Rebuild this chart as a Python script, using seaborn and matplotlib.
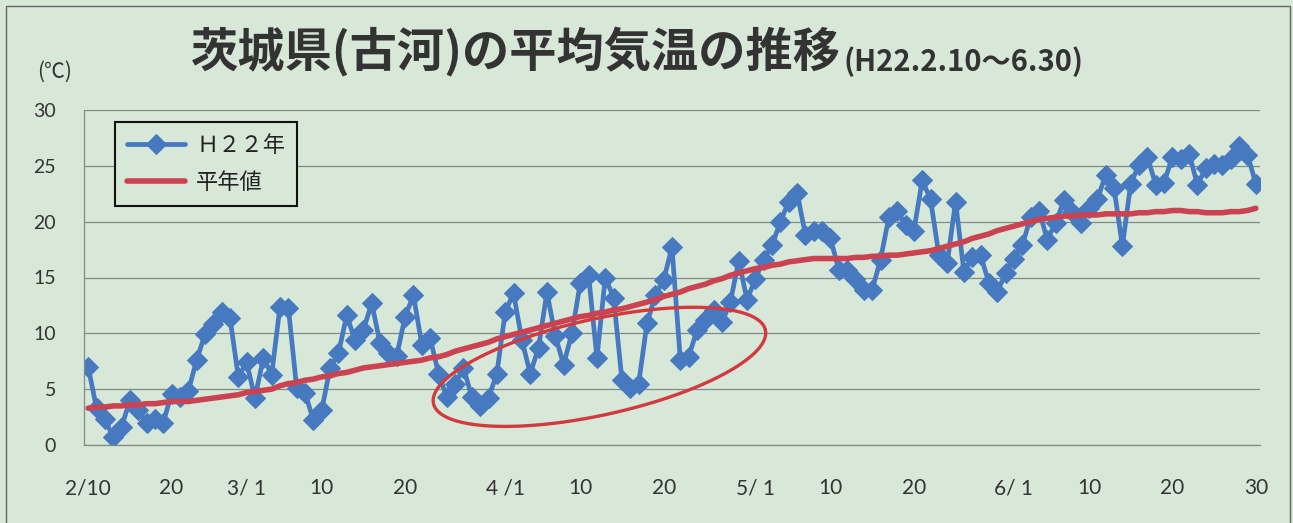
import numpy as np
import pandas as pd
import matplotlib.pyplot as plt
from matplotlib.patches import Rectangle
import seaborn as sns

# daily mean temperature, Koga (Ibaraki), 2010-02-10 .. 2010-06-30
dates = pd.date_range('2010-02-10', '2010-06-30', freq='D')

h22 = [7.0, 3.3, 2.3, 0.7, 1.6, 4.0, 3.1, 2.0, 2.3, 2.0,
       4.6, 4.3, 4.8, 7.6, 9.9, 10.8, 11.9, 11.4, 6.1, 7.4,
       4.2, 7.8, 6.3, 12.4, 12.3, 5.1, 4.7, 2.2, 3.1, 6.9,
       8.2, 11.6, 9.4, 10.3, 12.7, 9.1, 8.2, 8.0, 11.5, 13.4,
       9.0, 9.6, 6.4, 4.3, 5.5, 6.9, 4.3, 3.5, 4.2, 6.4,
       11.9, 13.6, 9.4, 6.4, 8.7, 13.7, 9.8, 7.2, 10.0, 14.5,
       15.2, 7.8, 15.0, 13.2, 5.8, 5.1, 5.5, 10.9, 13.4, 14.8,
       17.7, 7.6, 7.9, 10.3, 11.2, 12.1, 11.0, 12.8, 16.5, 13.0,
       14.9, 16.6, 17.9, 20.0, 21.8, 22.6, 18.8, 19.2, 19.2, 18.5,
       15.7, 15.7, 14.9, 13.9, 13.9, 16.6, 20.4, 21.0, 19.7, 19.2,
       23.7, 22.0, 17.0, 16.3, 21.8, 15.5, 16.8, 17.0, 14.5, 13.7,
       15.4, 16.7, 17.9, 20.4, 21.0, 18.4, 19.9, 21.9, 20.9, 19.9,
       21.2, 22.0, 24.2, 23.0, 17.8, 23.4, 25.1, 25.8, 23.3, 23.5,
       25.8, 25.6, 26.1, 23.3, 24.8, 25.2, 25.1, 25.6, 26.8, 26.0,
       23.4]

normal = [3.3, 3.4, 3.4, 3.5, 3.5, 3.6, 3.6, 3.7, 3.7, 3.8,
          3.9, 3.9, 3.9, 4.0, 4.1, 4.2, 4.3, 4.4, 4.5, 4.7,
          4.8, 4.9, 5.0, 5.3, 5.5, 5.6, 5.8, 5.9, 6.1, 6.2,
          6.4, 6.5, 6.7, 6.9, 7.0, 7.1, 7.2, 7.3, 7.4, 7.5,
          7.6, 7.8, 7.9, 8.1, 8.4, 8.6, 8.8, 9.0, 9.2, 9.5,
          9.7, 9.9, 10.1, 10.3, 10.5, 10.7, 10.9, 11.1, 11.3, 11.5,
          11.6, 11.8, 11.9, 12.1, 12.2, 12.4, 12.6, 12.8, 13.0, 13.3,
          13.5, 13.7, 14.0, 14.2, 14.4, 14.7, 14.9, 15.2, 15.4, 15.6,
          15.8, 15.9, 16.1, 16.2, 16.4, 16.5, 16.6, 16.7, 16.7, 16.7,
          16.7, 16.7, 16.8, 16.8, 16.9, 16.9, 17.0, 17.0, 17.1, 17.2,
          17.3, 17.4, 17.6, 17.8, 18.0, 18.2, 18.5, 18.7, 18.9, 19.2,
          19.4, 19.6, 19.8, 20.0, 20.2, 20.3, 20.4, 20.5, 20.5, 20.6,
          20.6, 20.6, 20.7, 20.7, 20.7, 20.7, 20.8, 20.8, 20.9, 20.9,
          21.0, 21.0, 20.9, 20.9, 20.8, 20.8, 20.8, 20.9, 20.9, 21.0,
          21.2]

tick_dates = ['2010-02-10', '2010-02-20', '2010-03-01', '2010-03-10', '2010-03-20',
              '2010-04-01', '2010-04-10', '2010-04-20', '2010-05-01', '2010-05-10',
              '2010-05-20', '2010-06-01', '2010-06-10', '2010-06-20', '2010-06-30']
tick_labels = ['2/10', '20', '3/ 1', '10', '20', '4 /1', '10', '20', '5/ 1', '10',
               '20', '6/ 1', '10', '20', '30']

bg = '#d7e8d9'
blue = '#4679c0'
red = '#cb4350'
grid_c = '#7f8c86'

sns.set_theme(style='white', rc={'axes.facecolor': bg, 'figure.facecolor': bg})
plt.rcParams['font.family'] = ['Lato', 'Noto Sans CJK JP', 'DejaVu Sans']

df = pd.DataFrame({'day': np.arange(len(dates)), 'H22': h22, 'normal': normal})

fig = plt.figure(figsize=(12.93, 5.23), dpi=100)
ax = fig.add_axes([84 / 1293, 1 - 445 / 523, (1260 - 84) / 1293, (445 - 110) / 523])

sns.lineplot(data=df, x='day', y='H22', ax=ax, color=blue, lw=3.4,
             marker='D', markersize=10.5, markeredgecolor=blue, label='Ｈ２２年')
sns.lineplot(data=df, x='day', y='normal', ax=ax, color=red, lw=4.0, label='平年値')

ax.set_xlim(-0.5, len(dates) - 0.5)
ax.set_ylim(0, 30)
ax.set_yticks(range(0, 31, 5))
tick_pos = [dates.get_loc(pd.Timestamp(d)) for d in tick_dates]
ax.set_xticks(tick_pos)
ax.set_xticklabels(tick_labels)
ax.set_xlabel('')
ax.set_ylabel('')
ax.yaxis.grid(True, color=grid_c, lw=0.9)
ax.tick_params(axis='x', length=0, pad=24, labelsize=15, labelcolor='#333333')
ax.tick_params(axis='y', length=0, pad=20, labelsize=14, labelcolor='#333333')
for s in ['top', 'right']:
    ax.spines[s].set_visible(False)
for s in ['left', 'bottom']:
    ax.spines[s].set_color(grid_c)
    ax.spines[s].set_linewidth(0.9)

# hand-drawn style ellipse around early-April cold spell
fig.canvas.draw()
bb = ax.get_window_extent()
px_day = bb.width / len(dates)
px_deg = bb.height / 30
t = np.linspace(0, 2 * np.pi, 300)
th = np.deg2rad(12.5)
a, b = 170, 48
ex = a * np.cos(t) * np.cos(th) - b * np.sin(t) * np.sin(th)
ey = a * np.cos(t) * np.sin(th) + b * np.sin(t) * np.cos(th)
ax.plot(61.3 + ex / px_day, 7.0 + ey / px_deg, color='#d23a3f', lw=2.4, zorder=5)

leg = ax.legend(loc='upper left', bbox_to_anchor=(115 / 1293, 1 - 122 / 523),
                bbox_transform=fig.transFigure, borderaxespad=0, frameon=True,
                fancybox=False, edgecolor='#111111', facecolor=bg, framealpha=1,
                handlelength=2.6, handletextpad=0.5, labelspacing=0.6, borderpad=0.55,
                prop={'family': 'Noto Sans CJK JP', 'size': 16})
leg.get_frame().set_linewidth(1.5)
for txt in leg.get_texts():
    txt.set_color('#222222')

fig.text(0.65, 1 - 52 / 523, '茨城県(古河)の平均気温の推移', ha='right', va='center',
         fontsize=34, fontweight='bold', color='#333333', family='Noto Sans CJK JP')
fig.text(0.652, 1 - 62 / 523, '(H22.2.10～6.30)', ha='left', va='center',
         fontsize=21, fontweight='bold', color='#333333', family='Noto Sans CJK JP')
fig.text(55 / 1293, 1 - 72 / 523, '(℃)', ha='center', va='center',
         fontsize=15, color='#333333', family='Noto Sans CJK JP')

fig.patches.append(Rectangle((6 / 1293, -0.05), 1284 / 1293, 1.05 - 6 / 523,
                             transform=fig.transFigure, fill=False,
                             edgecolor='#666666', lw=1.0))

fig.savefig('out.png', dpi=100, facecolor=bg)
